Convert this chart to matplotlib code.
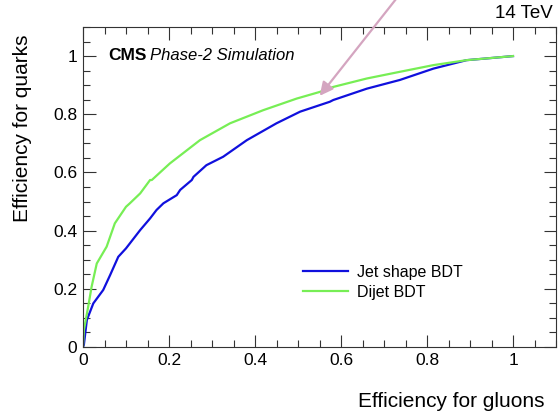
import matplotlib
matplotlib.use("Agg")
import matplotlib.pyplot as plt
from matplotlib.ticker import MultipleLocator

plt.rcParams['font.family'] = ['Liberation Sans', 'DejaVu Sans']

# Jet shape BDT (blue)
jet_g = [0.0, 0.002, 0.009, 0.024, 0.047, 0.063, 0.082, 0.100, 0.133, 0.156, 0.171, 0.187,
         0.218, 0.226, 0.253, 0.257, 0.287, 0.326, 0.381, 0.450, 0.505, 0.574, 0.582,
         0.660, 0.737, 0.815, 0.892, 0.939, 1.0]
jet_q = [0.0, 0.007, 0.093, 0.150, 0.196, 0.247, 0.310, 0.339, 0.402, 0.442, 0.471, 0.494,
         0.522, 0.540, 0.574, 0.585, 0.625, 0.654, 0.711, 0.769, 0.809, 0.843, 0.849,
         0.888, 0.918, 0.957, 0.986, 0.992, 1.0]

# Dijet BDT (green)
dij_g = [0.0, 0.002, 0.012, 0.020, 0.032, 0.055, 0.074, 0.100, 0.109, 0.133, 0.156, 0.160,
         0.202, 0.272, 0.342, 0.419, 0.497, 0.551, 0.582, 0.660, 0.737, 0.815, 0.892, 1.0]
dij_q = [0.0, 0.058, 0.138, 0.207, 0.287, 0.345, 0.425, 0.482, 0.494, 0.528, 0.574, 0.574,
         0.631, 0.711, 0.769, 0.814, 0.854, 0.877, 0.894, 0.923, 0.946, 0.969, 0.986, 1.0]

tick_vals = [0, 0.2, 0.4, 0.6, 0.8, 1.0]
tick_labels = ['0', '0.2', '0.4', '0.6', '0.8', '1']

fig = plt.figure(figsize=(5.58, 4.15), dpi=100)
ax = fig.add_axes([83/558, 1-347/415, 473/558, 320/415])

ax.plot(jet_g, jet_q, color='#1010dd', lw=1.6, label='Jet shape BDT')
ax.plot(dij_g, dij_q, color='#77ee55', lw=1.6, label='Dijet BDT')

ax.set_xlim(0, 1.1)
ax.set_ylim(0, 1.1)
ax.set_xticks(tick_vals)
ax.set_xticklabels(tick_labels)
ax.set_yticks(tick_vals)
ax.set_yticklabels(tick_labels)
ax.xaxis.set_minor_locator(MultipleLocator(0.05))
ax.yaxis.set_minor_locator(MultipleLocator(0.05))
ax.tick_params(which='both', direction='in', top=True, right=True, labelsize=12.5, width=0.8, color='#333333')
ax.tick_params(which='major', length=9, pad=4)
ax.tick_params(which='minor', length=5)
for s in ax.spines.values():
    s.set_linewidth(0.8)
    s.set_color('#333333')

fig.text(545/558, 1-401/415, 'Efficiency for gluons', ha='right', va='center', fontsize=15)
fig.text(23/558, 1-34/415, 'Efficiency for quarks', ha='center', va='top', rotation=90, fontsize=15)
fig.text(553/558, 1-14/415, '14 TeV', ha='right', va='center', fontsize=13.5)
ax.text(25/473, 1-(55-27)/320, 'CMS', transform=ax.transAxes, fontsize=12.5, fontweight='bold', va='center', ha='left')
ax.text(67/473, 1-(56-27)/320, 'Phase-2 Simulation', transform=ax.transAxes, fontsize=12, style='italic', va='center', ha='left')

leg = ax.legend(loc='upper left', bbox_to_anchor=((303-83)/473, (347-265)/320), frameon=False, fontsize=11.5,
                handlelength=2.8, handletextpad=0.6, labelspacing=0.3, borderpad=0, borderaxespad=0)

fig.patches.append(matplotlib.patches.FancyArrowPatch(
    (400/558, 1+6/415), (318/558, 1-98/415), transform=fig.transFigure,
    arrowstyle='-|>,head_length=8,head_width=4', color='#d4a5c0', lw=1.6, mutation_scale=1))

fig.savefig('out.png', dpi=100)
